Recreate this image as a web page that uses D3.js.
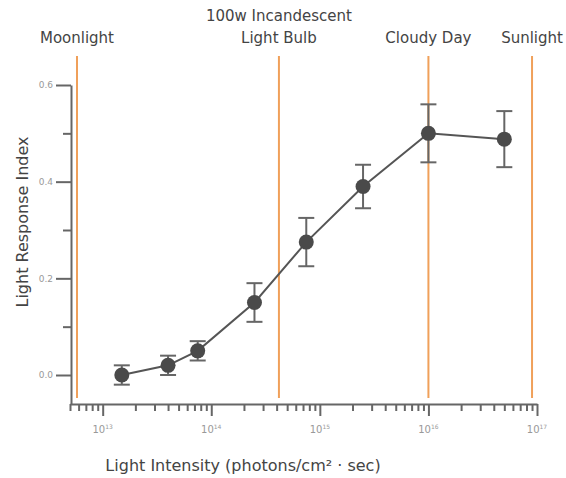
<!DOCTYPE html>
<html lang="en">
<head>
<meta charset="utf-8">
<title>Light Response</title>
<script src="https://d3js.org/d3.v7.min.js"></script>
<style>
  body { margin: 0; background: #fff; }
  svg text { font-family: "DejaVu Sans", Verdana, sans-serif; }
</style>
</head>
<body>
<script>
"use strict";

// data
let intensity = [1.5e13, 4e13, 7.5e13, 2.5e14, 7.5e14, 2.5e15, 1e16, 5e16];
let response = [0.0, 0.02, 0.05, 0.15, 0.275, 0.39, 0.5, 0.488];
let errors = [0.02, 0.02, 0.02, 0.04, 0.05, 0.045, 0.06, 0.058];

let refNames = [["Moonlight"], ["100w Incandescent", "Light Bulb"], ["Cloudy Day"], ["Sunlight"]];
let refValues = [5.8e12, 4.2e14, 1e16, 9e16];

let yMajor = [0, 0.2, 0.4, 0.6];
let yMinor = [0.1, 0.3, 0.5];
let xMajor = [1e13, 1e14, 1e15, 1e16, 1e17];

let w = 566, h = 478;
let svg = d3.select("body").append("svg").attr("width", w).attr("height", h);

let x = d3.scaleLog().domain([5e12, 1e17]).range([70, 537]);
let y = d3.scaleLinear().domain([-0.06, 0.6]).range([404, 85]);

// minor x ticks 2..9 per decade
let xMinor = [];
for (let e = 12; e < 17; e++) {
  for (let m = 2; m <= 9; m++) {
    let v = m * Math.pow(10, e);
    if (v >= 5e12 && v < 1e17) xMinor.push(v);
  }
}

// reference lines (orange)
let refs = svg.append("g");
refs.selectAll("line").data(refValues).enter().append("line")
  .attr("x1", d => x(d)).attr("x2", d => x(d))
  .attr("y1", 56).attr("y2", 398)
  .style("stroke", "#f0a05a").style("stroke-width", 2);

refNames.forEach(function(lines, i) {
  let t = svg.append("text")
    .attr("text-anchor", "middle")
    .style("font-size", "15px")
    .style("fill", "#444");
  lines.forEach(function(s, j) {
    t.append("tspan")
      .attr("x", x(refValues[i]))
      .attr("y", 43 - (lines.length - 1 - j) * 22)
      .text(s);
  });
});

// y axis
let yAxis = svg.append("g").attr("transform", "translate(71,0)");
yAxis.call(d3.axisLeft(y).tickValues(yMajor).tickSize(15).tickSizeOuter(0)
  .tickFormat(d3.format(".1f")));
yAxis.append("g").call(d3.axisLeft(y).tickValues(yMinor).tickSize(8).tickSizeOuter(0).tickFormat(""))
  .select(".domain").remove();
yAxis.selectAll("path, line").style("stroke", "#666").style("stroke-width", 2);
yAxis.selectAll("text").style("font-size", "9px").style("fill", "#999")
  .style("font-family", "DejaVu Sans, sans-serif").attr("x", -18);

// x axis
let xAxis = svg.append("g").attr("transform", "translate(0,404)");
xAxis.call(d3.axisBottom(x).tickValues(xMajor).tickSize(12).tickSizeOuter(0).tickFormat(""));
xAxis.append("g").call(d3.axisBottom(x).tickValues(xMinor).tickSize(7).tickSizeOuter(0).tickFormat(""))
  .select(".domain").remove();
xAxis.selectAll("path, line").style("stroke", "#666").style("stroke-width", 2);

let xLab = svg.append("g").selectAll("text").data(xMajor).enter().append("text")
  .attr("x", d => x(d)).attr("y", 433)
  .attr("text-anchor", "middle")
  .style("font-size", "10px").style("fill", "#999");
xLab.append("tspan").text("10");
xLab.append("tspan").attr("dy", -4).style("font-size", "6px").text(d => Math.round(Math.log10(d)));

// axis titles
svg.append("text")
  .attr("x", 243).attr("y", 471)
  .attr("text-anchor", "middle")
  .style("font-size", "16px").style("fill", "#444")
  .text("Light Intensity (photons/cm² · sec)");

svg.append("text")
  .attr("transform", "translate(28,222) rotate(-90)")
  .attr("text-anchor", "middle")
  .style("font-size", "16px").style("fill", "#444")
  .text("Light Response Index");

// data
let pts = intensity.map((v, i) => ({x: v, y: response[i], e: errors[i]}));

svg.append("path").datum(pts)
  .attr("d", d3.line().x(d => x(d.x)).y(d => y(d.y)))
  .style("fill", "none").style("stroke", "#555").style("stroke-width", 2);

let bars = svg.append("g").selectAll("g").data(pts).enter().append("g")
  .style("stroke", "#666").style("stroke-width", 2);
bars.append("line")
  .attr("x1", d => x(d.x)).attr("x2", d => x(d.x))
  .attr("y1", d => y(d.y - d.e)).attr("y2", d => y(d.y + d.e));
bars.append("line")
  .attr("x1", d => x(d.x) - 8).attr("x2", d => x(d.x) + 8)
  .attr("y1", d => y(d.y + d.e)).attr("y2", d => y(d.y + d.e));
bars.append("line")
  .attr("x1", d => x(d.x) - 8).attr("x2", d => x(d.x) + 8)
  .attr("y1", d => y(d.y - d.e)).attr("y2", d => y(d.y - d.e));

svg.append("g").selectAll("circle").data(pts).enter().append("circle")
  .attr("cx", d => x(d.x)).attr("cy", d => y(d.y))
  .attr("r", 7.5)
  .style("fill", "#4a4a4a");
</script>
</body>
</html>
